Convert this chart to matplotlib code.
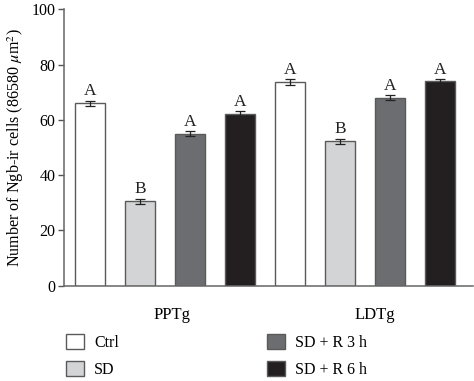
import matplotlib.pyplot as plt
from matplotlib.patches import Patch

# data
groups = ["PPTg", "LDTg"]
conditions = ["Ctrl", "SD", "SD + R 3 h", "SD + R 6 h"]
pptg = [66.0, 30.5, 55.0, 62.2]
ldtg = [73.7, 52.3, 68.1, 73.9]
pptg_err = [1.0, 1.0, 1.0, 1.0]
ldtg_err = [1.0, 0.9, 0.9, 0.8]
pptg_sig = ["A", "B", "A", "A"]
ldtg_sig = ["A", "B", "A", "A"]

colors = ["#ffffff", "#d3d4d6", "#6c6d70", "#231f20"]
edge = "#5a5a5a"

plt.rcParams['font.family'] = ['Liberation Serif', 'DejaVu Serif']
plt.rcParams['mathtext.fontset'] = 'stix'

fig = plt.figure(figsize=(4.74, 3.81), dpi=100)
ax = fig.add_axes([0.135, 0.250, 0.863, 0.7255])

vals = pptg + ldtg
errs = pptg_err + ldtg_err
sigs = pptg_sig + ldtg_sig
cols = colors + colors
xs = list(range(len(vals)))

ax.bar(xs, vals, width=0.6, color=cols, edgecolor=edge, linewidth=1.0)
ax.errorbar(xs, vals, yerr=errs, fmt='none', ecolor='#222222',
            elinewidth=0.9, capsize=3.5, capthick=0.9)
for x, v, e, s in zip(xs, vals, errs, sigs):
    ax.text(x, v + e + 0.5, s, ha='center', va='bottom', fontsize=12.5,
            color='#222222')

ax.set_xlim(-0.52, 7.66)
ax.set_ylim(0, 100)
ax.set_yticks([0, 20, 40, 60, 80, 100])
ax.set_xticks([1.65, 5.7])
ax.set_xticklabels(groups, fontsize=12)
ax.tick_params(axis='x', length=0, pad=15)
ax.tick_params(axis='y', length=4, width=1, color='#555555', labelsize=11.5,
               pad=2)
ax.set_ylabel("Number of Ngb-ir cells (86580 $\\mu$m$^2$)", fontsize=11.6,
              labelpad=4)
for side in ['top', 'right']:
    ax.spines[side].set_visible(False)
for side in ['left', 'bottom']:
    ax.spines[side].set_color('#666666')
    ax.spines[side].set_linewidth(1.1)

handles = [Patch(facecolor=c, edgecolor=edge, linewidth=1.0) for c in colors]
common = dict(frameon=False, fontsize=11.5, handlelength=1.1,
              handleheight=1.05, handletextpad=0.65, labelspacing=0.65,
              borderpad=0, borderaxespad=0, loc='upper left')
fig.legend(handles[:2], conditions[:2], bbox_to_anchor=(66 / 474, 1 - 334 / 381),
           **common)
fig.legend(handles[2:], conditions[2:], bbox_to_anchor=(267 / 474, 1 - 334 / 381),
           **common)

fig.savefig("out.png", dpi=100)
